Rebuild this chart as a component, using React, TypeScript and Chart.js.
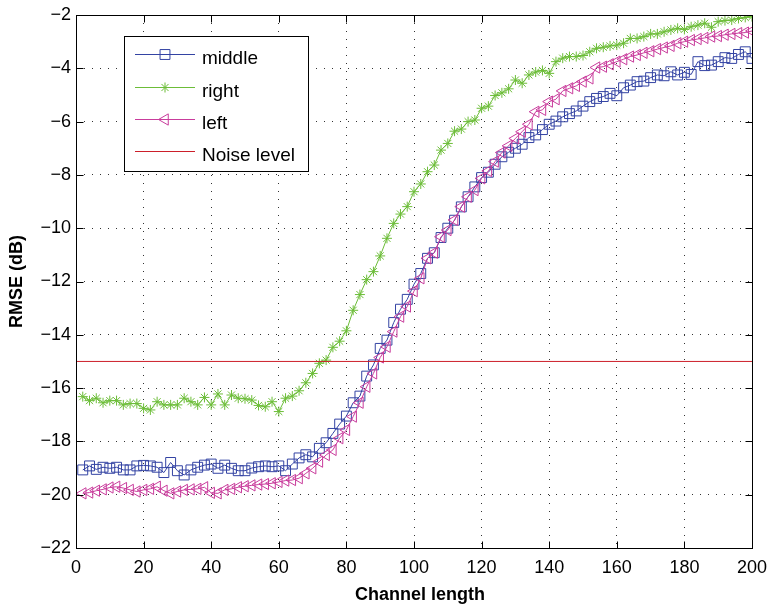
import React, { useEffect, useRef } from "react";
import { Chart, registerables } from "chart.js";

Chart.register(...registerables);

// Channel lengths at which the RMSE was evaluated
const channelLength = [
  2, 4, 6, 8, 10, 12, 14, 16, 18, 20, 22, 24, 26, 28, 30, 32, 34, 36, 38, 40,
  42, 44, 46, 48, 50, 52, 54, 56, 58, 60, 62, 64, 66, 68, 70, 72, 74, 76, 78, 80,
  82, 84, 86, 88, 90, 92, 94, 96, 98, 100, 102, 104, 106, 108, 110, 112, 114, 116, 118, 120,
  122, 124, 126, 128, 130, 132, 134, 136, 138, 140, 142, 144, 146, 148, 150, 152, 154, 156, 158, 160,
  162, 164, 166, 168, 170, 172, 174, 176, 178, 180, 182, 184, 186, 188, 190, 192, 194, 196, 198, 200,
];

const middleRmse = [
  -19.07, -18.92, -19.05, -18.97, -19.01, -18.97, -19.07, -19.07, -18.92, -18.9,
  -18.92, -18.97, -19.17, -18.79, -19.1, -19.26, -19.07, -18.97, -18.89, -18.85,
  -19.01, -18.89, -19.01, -19.1, -19.1, -19.0, -18.95, -18.92, -18.95, -18.92,
  -19.1, -18.85, -18.62, -18.5, -18.58, -18.26, -18.05, -17.7, -17.35, -17.05,
  -16.55, -16.3, -15.55, -15.13, -14.51, -14.2, -13.54, -13.04, -12.67, -12.1,
  -11.7, -11.13, -10.92, -10.35, -10.0, -9.7, -9.2, -8.82, -8.45, -8.1,
  -7.9, -7.6, -7.32, -7.15, -7.0, -6.85, -6.6, -6.5, -6.3, -6.1,
  -5.98, -5.82, -5.7, -5.6, -5.42, -5.25, -5.13, -5.06, -4.94, -5.03,
  -4.73, -4.63, -4.5, -4.48, -4.35, -4.25, -4.28, -4.13, -4.25, -4.15,
  -4.23, -3.75, -3.9, -3.88, -3.75, -3.6, -3.63, -3.48, -3.38, -3.63,
];

const rightRmse = [
  -16.32, -16.47, -16.38, -16.55, -16.47, -16.47, -16.63, -16.58, -16.58, -16.76,
  -16.82, -16.51, -16.63, -16.63, -16.63, -16.38, -16.51, -16.63, -16.35, -16.63,
  -16.22, -16.63, -16.26, -16.38, -16.4, -16.45, -16.65, -16.7, -16.51, -16.88,
  -16.38, -16.3, -16.1, -15.8, -15.45, -15.07, -14.95, -14.47, -14.24, -13.85,
  -13.08, -12.49, -11.93, -11.63, -11.04, -10.38, -9.82, -9.47, -9.19, -8.63,
  -8.34, -7.88, -7.63, -7.07, -6.82, -6.36, -6.28, -6.0, -5.94, -5.5,
  -5.42, -5.02, -4.92, -4.77, -4.44, -4.56, -4.25, -4.14, -4.08, -4.19,
  -3.75, -3.62, -3.56, -3.56, -3.52, -3.38, -3.25, -3.21, -3.16, -3.13,
  -3.06, -2.88, -2.88, -2.81, -2.71, -2.71, -2.63, -2.56, -2.5, -2.54,
  -2.44, -2.38, -2.31, -2.46, -2.25, -2.21, -2.19, -2.13, -2.09, -2.06,
];

const leftRmse = [
  -19.95, -19.92, -19.85, -19.8, -19.73, -19.7, -19.75, -19.82, -19.88, -19.82,
  -19.78, -19.7, -19.85, -19.95, -19.88, -19.82, -19.8, -19.78, -19.72, -19.93,
  -19.95, -19.82, -19.78, -19.72, -19.68, -19.65, -19.62, -19.6, -19.57, -19.52,
  -19.47, -19.45, -19.38, -19.2, -19.01, -18.76, -18.51, -18.32, -17.88, -17.57,
  -17.07, -16.55, -15.95, -15.45, -14.85, -14.45, -13.88, -13.32, -12.94, -12.36,
  -11.88, -11.13, -10.92, -10.32, -10.07, -9.69, -9.19, -8.82, -8.57, -8.13,
  -7.85, -7.5, -7.16, -6.91, -6.63, -6.38, -6.1, -5.63, -5.56, -5.25,
  -5.16, -4.85, -4.75, -4.66, -4.5, -4.38, -3.97, -3.94, -3.85, -3.75,
  -3.66, -3.56, -3.5, -3.42, -3.36, -3.28, -3.22, -3.16, -3.06, -3.0,
  -2.94, -2.9, -2.86, -2.81, -2.79, -2.74, -2.71, -2.68, -2.66, -2.6,
];

const noiseLevel = -15;
const noiseSpan = [0, 200];

const xTicks = [0, 20, 40, 60, 80, 100, 120, 140, 160, 180, 200];
const yTicks = [-22, -20, -18, -16, -14, -12, -10, -8, -6, -4, -2];

const FONT = '"Liberation Sans", Arial, Helvetica, sans-serif';

type Marker = "rect" | "star" | "triangleLeft" | "none";

const legendEntries: { label: string; color: string; marker: Marker; radius: number }[] = [
  { label: "middle", color: "#3343a3", marker: "rect", radius: 7 },
  { label: "right", color: "#6cbd38", marker: "star", radius: 5 },
  { label: "left", color: "#c93c9c", marker: "triangleLeft", radius: 6.5 },
  { label: "Noise level", color: "#cc1f2a", marker: "none", radius: 0 },
];

function drawMarker(ctx: CanvasRenderingContext2D, marker: Marker, x: number, y: number, r: number, color: string) {
  if (marker === "none") return;
  ctx.save();
  ctx.strokeStyle = color;
  ctx.lineWidth = 1;
  ctx.beginPath();
  if (marker === "rect") {
    const s = r * Math.SQRT1_2;
    ctx.rect(x - s, y - s, 2 * s, 2 * s);
  } else if (marker === "star") {
    const d = r * Math.SQRT1_2;
    ctx.moveTo(x - r, y); ctx.lineTo(x + r, y);
    ctx.moveTo(x, y - r); ctx.lineTo(x, y + r);
    ctx.moveTo(x - d, y - d); ctx.lineTo(x + d, y + d);
    ctx.moveTo(x - d, y + d); ctx.lineTo(x + d, y - d);
  } else if (marker === "triangleLeft") {
    let a = -Math.PI / 2;
    ctx.moveTo(x + Math.sin(a) * r, y - Math.cos(a) * r);
    a += (2 * Math.PI) / 3;
    ctx.lineTo(x + Math.sin(a) * r, y - Math.cos(a) * r);
    a += (2 * Math.PI) / 3;
    ctx.lineTo(x + Math.sin(a) * r, y - Math.cos(a) * r);
    ctx.closePath();
  }
  ctx.stroke();
  ctx.restore();
}

// Box, inward ticks, axis titles and the legend, drawn on top of the plot
const framePlugin = {
  id: "axesFrame",
  afterDraw(chart: any) {
    const { ctx, chartArea: a, scales } = chart;
    const xs = scales.x;
    const ys = scales.y;
    ctx.save();
    ctx.strokeStyle = "#000";
    ctx.lineWidth = 1;
    const L = Math.round(a.left) + 0.5;
    const R = Math.round(a.right) + 0.5;
    const T = Math.round(a.top) + 0.5;
    const B = Math.round(a.bottom) + 0.5;
    ctx.strokeRect(L, T, R - L, B - T);
    const tl = 7;
    ctx.beginPath();
    xTicks.forEach((v) => {
      const px = Math.round(xs.getPixelForValue(v)) + 0.5;
      ctx.moveTo(px, B); ctx.lineTo(px, B - tl);
      ctx.moveTo(px, T); ctx.lineTo(px, T + tl);
    });
    yTicks.forEach((v) => {
      const py = Math.round(ys.getPixelForValue(v)) + 0.5;
      ctx.moveTo(L, py); ctx.lineTo(L + tl, py);
      ctx.moveTo(R, py); ctx.lineTo(R - tl, py);
    });
    ctx.stroke();

    // axis titles
    ctx.fillStyle = "#000";
    ctx.font = `bold 18px ${FONT}`;
    ctx.textAlign = "center";
    ctx.textBaseline = "middle";
    ctx.fillText("Channel length", (a.left + a.right) / 2 + 6, 595);
    ctx.save();
    ctx.translate(17, (a.top + a.bottom) / 2);
    ctx.rotate(-Math.PI / 2);
    ctx.fillText("RMSE (dB)", 0, 0);
    ctx.restore();

    // legend
    const bx = 124, by = 36, bw = 184, bh = 135;
    ctx.fillStyle = "#fff";
    ctx.fillRect(bx, by, bw, bh);
    ctx.strokeStyle = "#000";
    ctx.strokeRect(bx + 0.5, by + 0.5, bw, bh);
    const rows = [54, 87, 119, 151];
    ctx.font = `19px ${FONT}`;
    ctx.textAlign = "left";
    ctx.textBaseline = "alphabetic";
    legendEntries.forEach((e, i) => {
      const y = rows[i] + 0.5;
      ctx.strokeStyle = e.color;
      ctx.beginPath();
      ctx.moveTo(135, y);
      ctx.lineTo(195, y);
      ctx.stroke();
      drawMarker(ctx, e.marker, 165, y, e.radius, e.color);
      ctx.fillStyle = "#000";
      ctx.fillText(e.label, 202, rows[i] + 10);
    });
    ctx.restore();
  },
};

const toPoints = (ys: number[]) => channelLength.map((x, i) => ({ x, y: ys[i] }));

const noPad = (s: any) => {
  s.paddingLeft = 0;
  s.paddingRight = 0;
  s.paddingTop = 0;
  s.paddingBottom = 0;
};

export default function App() {
  const canvasRef = useRef<HTMLCanvasElement | null>(null);

  useEffect(() => {
    const canvas = canvasRef.current;
    if (!canvas) return;
    const [mid, right, left, noise] = legendEntries;
    const chart = new Chart(canvas, {
      type: "line",
      data: {
        datasets: [
          {
            label: mid.label,
            data: toPoints(middleRmse),
            borderColor: mid.color,
            borderWidth: 1,
            pointStyle: "rect",
            pointRadius: mid.radius,
            pointBorderColor: mid.color,
            pointBackgroundColor: "rgba(0,0,0,0)",
            pointBorderWidth: 1,
            order: 4,
          },
          {
            label: right.label,
            data: toPoints(rightRmse),
            borderColor: right.color,
            borderWidth: 1,
            pointStyle: "star",
            pointRadius: right.radius,
            pointBorderColor: right.color,
            pointBackgroundColor: "rgba(0,0,0,0)",
            pointBorderWidth: 1,
            order: 3,
          },
          {
            label: left.label,
            data: toPoints(leftRmse),
            borderColor: left.color,
            borderWidth: 1,
            pointStyle: "triangle",
            pointRotation: -90,
            pointRadius: left.radius,
            pointBorderColor: left.color,
            pointBackgroundColor: "rgba(0,0,0,0)",
            pointBorderWidth: 1,
            order: 2,
          },
          {
            label: noise.label,
            data: noiseSpan.map((x) => ({ x, y: noiseLevel })),
            borderColor: noise.color,
            borderWidth: 1,
            pointRadius: 0,
            order: 1,
          },
        ],
      },
      options: {
        responsive: false,
        animation: false,
        layout: { padding: { left: 0, right: 18, top: 15, bottom: 0 } },
        plugins: { legend: { display: false }, tooltip: { enabled: false } },
        elements: { line: { tension: 0 } },
        scales: {
          x: {
            type: "linear",
            min: 0,
            max: 200,
            afterFit: (s: any) => { s.height = 58; noPad(s); },
            afterBuildTicks: (s: any) => { s.ticks = xTicks.map((v) => ({ value: v })); },
            grid: { color: "rgba(0,0,0,0.8)", lineWidth: 1, drawTicks: false },
            border: { display: false, dash: [1, 7] },
            ticks: {
              color: "#000",
              font: { family: FONT, size: 18 },
              padding: 9,
              maxRotation: 0,
              callback: (v: any) => String(v).replace("-", "\u2212"),
            },
          },
          y: {
            type: "linear",
            min: -22,
            max: -2,
            afterFit: (s: any) => { s.width = 76; noPad(s); },
            afterBuildTicks: (s: any) => { s.ticks = yTicks.map((v) => ({ value: v })); },
            grid: { color: "rgba(0,0,0,0.8)", lineWidth: 1, drawTicks: false },
            border: { display: false, dash: [1, 7] },
            ticks: {
              color: "#000",
              font: { family: FONT, size: 18 },
              padding: 5,
              callback: (v: any) => String(v).replace("-", "\u2212"),
            },
          },
        },
      },
      plugins: [framePlugin],
    });
    return () => chart.destroy();
  }, []);

  return (
    <div style={{ position: "fixed", left: 0, top: 0, width: 770, height: 606, background: "#fff" }}>
      <canvas ref={canvasRef} width={770} height={606} style={{ width: 770, height: 606, display: "block" }} />
    </div>
  );
}
